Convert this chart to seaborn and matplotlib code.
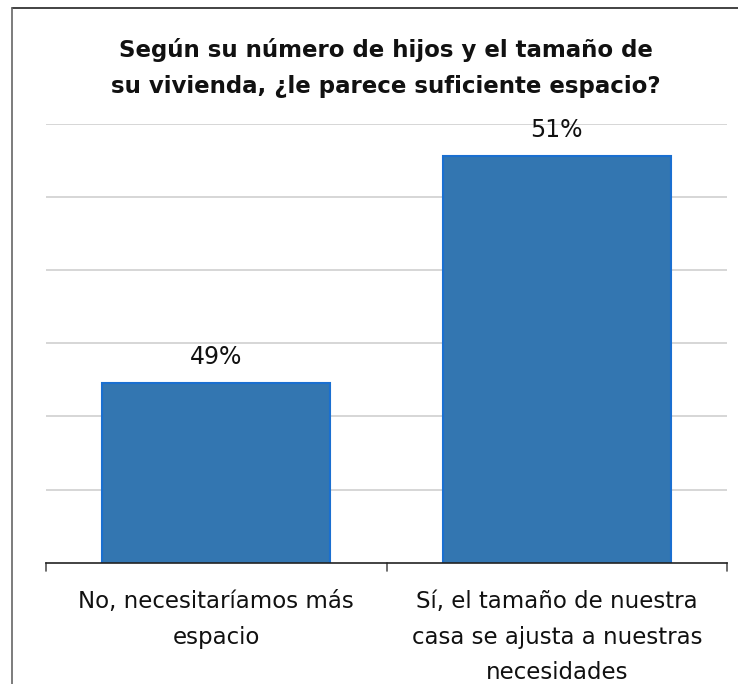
import matplotlib
matplotlib.use("Agg")
import matplotlib.pyplot as plt
import seaborn as sns
import pandas as pd
from matplotlib.lines import Line2D

categories = ["No, necesitaríamos más\nespacio",
              "Sí, el tamaño de nuestra\ncasa se ajusta a nuestras\nnecesidades"]
values = [49.23, 50.78]
value_labels = ["49%", "51%"]
title = "Según su número de hijos y el tamaño de\nsu vivienda, ¿le parece suficiente espacio?"

sns.set_theme(style="white")
plt.rcParams['font.family'] = ['DejaVu Sans']

fig = plt.figure(figsize=(7.38, 6.84), dpi=100)
ax = fig.add_axes([46/738, 1-562.7/684, (727-46)/738, (562.7-124)/684])

df = pd.DataFrame({"cat": categories, "val": values})
sns.barplot(data=df, x="cat", y="val", ax=ax, color="#3376b1", width=0.67,
            edgecolor="#1a6fd0", linewidth=1.5, saturation=1)

ax.set_ylim(48, 51)
ax.set_yticks([48.5, 49, 49.5, 50, 50.5, 51])
ax.set_yticklabels([])
ax.tick_params(axis='y', length=0)
ax.yaxis.grid(True, color="#d0d0d0", linewidth=1.2)
ax.set_axisbelow(True)
for s in ["top", "right", "left"]:
    ax.spines[s].set_visible(False)
ax.spines["bottom"].set_color("#222222")
ax.spines["bottom"].set_linewidth(1.2)
ax.set_xlim(-0.5, 1.5)
ax.set_xticks([0, 1])
ax.set_xticklabels(categories, fontsize=16.5, color="#111111", linespacing=1.68)
ax.tick_params(axis='x', length=0, pad=20)
# boundary tick marks
for xb in [-0.5, 0.5, 1.5]:
    ax.plot([xb, xb], [0, -0.02], transform=ax.get_xaxis_transform(),
            color="#555555", linewidth=1.2, clip_on=False)
ax.set_xlabel("")
ax.set_ylabel("")

for i, (v, lab) in enumerate(zip(values, value_labels)):
    ax.annotate(lab, (i, v), xytext=(0, 10), textcoords="offset points",
                ha="center", va="bottom", fontsize=17, color="#111111")

fig.text(0.523, 1-92.7/684, title, ha="center", va="baseline", fontsize=16.5,
         fontweight="bold", color="#111111", linespacing=1.72)

# outer frame lines (top and left)
fig.add_artist(Line2D([12/738, 1], [1-8/684, 1-8/684], color="#222222", linewidth=1.2,
                      transform=fig.transFigure))
fig.add_artist(Line2D([12/738, 12/738], [0, 1-8/684], color="#666666", linewidth=1.2,
                      transform=fig.transFigure))

fig.savefig("out.png", dpi=100, facecolor="white")
